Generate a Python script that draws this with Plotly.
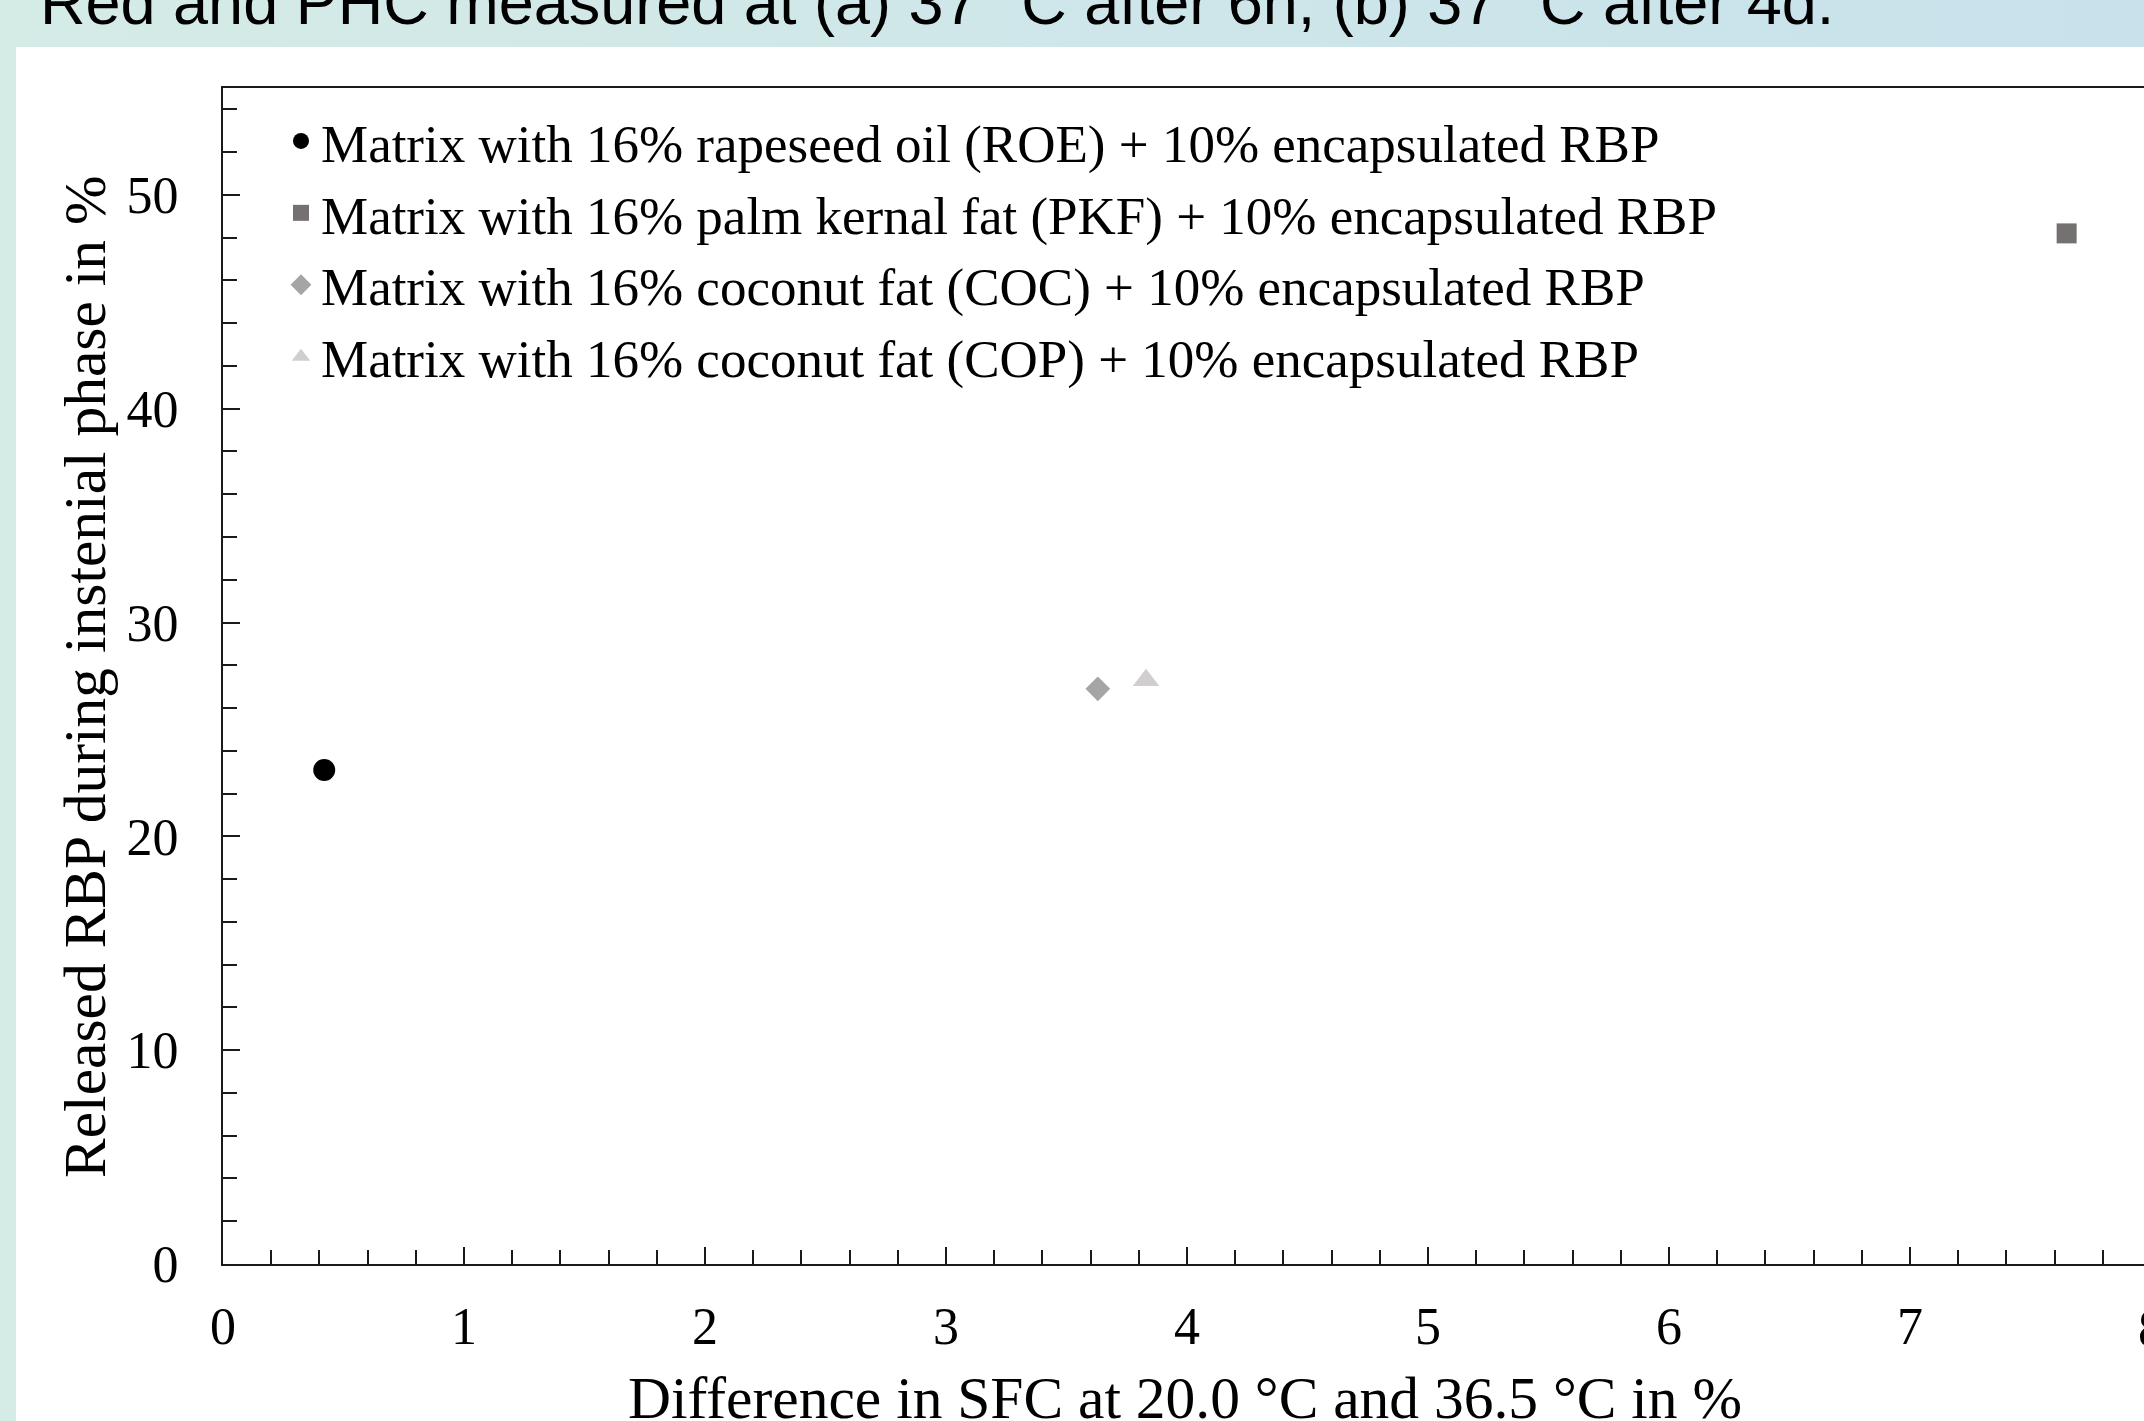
import base64
import plotly.graph_objects as go

# ---------------- data ----------------
series_names = [
    "Matrix with 16% rapeseed oil (ROE) + 10% encapsulated RBP",
    "Matrix with 16% palm kernal fat (PKF) + 10% encapsulated RBP",
    "Matrix with 16% coconut fat (COC) + 10% encapsulated RBP",
    "Matrix with 16% coconut fat (COP) + 10% encapsulated RBP",
]
sfc_difference = [0.42, 7.65, 3.63, 3.83]
released_rbp = [23.1, 48.2, 26.9, 27.3]
marker_symbols = ["circle", "square", "diamond", "triangle-up"]
marker_colors = ["#000000", "#767171", "#A5A5A5", "#D0CECE"]
marker_sizes = [22, 20, 19, 23]

x_tick_values = [0, 1, 2, 3, 4, 5, 6, 7]
y_tick_values = [0, 10, 20, 30, 40, 50]
x_cut_label = "8"

x_title = "Difference in SFC at 20.0 °C and 36.5 °C in %"
y_title = "Released RBP during instenial phase in %"
slide_title = "Red and PHC measured at (a) 37 °C after 6h, (b) 37 °C after 4d."

# ---------------- layout geometry (pixels) ----------------
W, H = 2144, 1421
PL, PR, PT, PB = 223, 2144, 88, 1264  # plot area edges
PX_PER_X = 241.0
X_MAX = (PR - PL) / PX_PER_X
Y_MAX = 55


def px2x(px):
    return (px - PL) / (PR - PL)


def px2y(py):
    return (PB - py) / (PB - PT)


serif = "Liberation Serif, Times New Roman, serif"

fig = go.Figure()
for name, xv, yv, sym, col, sz in zip(series_names, sfc_difference, released_rbp,
                                      marker_symbols, marker_colors, marker_sizes):
    fig.add_trace(go.Scatter(
        x=[xv], y=[yv], mode="markers", name=name,
        marker=dict(symbol=sym, color=col, size=sz, line=dict(width=0)),
        cliponaxis=False,
    ))

# background gradient (slide) as svg image
svg = (
    f'<svg xmlns="http://www.w3.org/2000/svg" width="{W}" height="{H}">'
    '<defs><linearGradient id="g" x1="0" x2="1" y1="0" y2="0">'
    '<stop offset="0" stop-color="#d5ebe6"/><stop offset="1" stop-color="#c8e2ec"/>'
    '</linearGradient></defs>'
    f'<rect width="{W}" height="{H}" fill="url(#g)"/></svg>'
)
svg_uri = "data:image/svg+xml;base64," + base64.b64encode(svg.encode()).decode()

axis_common = dict(
    showline=True, linecolor="#1a1a1a", linewidth=2,
    ticks="inside", ticklen=17, tickwidth=2, tickcolor="#1a1a1a",
    showgrid=False, zeroline=False,
    tickfont=dict(family=serif, size=52, color="black"),
)

title_font = dict(family=serif, size=59.5, color="black")

fig.update_layout(
    width=W, height=H,
    margin=dict(l=PL, r=W - PR, t=PT, b=H - PB, autoexpand=False),
    paper_bgcolor="#d5ebe6",
    plot_bgcolor="white",
    font=dict(family=serif, color="black"),
    showlegend=True,
    legend=dict(
        x=px2x(281), y=px2y(100), xanchor="left", yanchor="top",
        bgcolor="rgba(0,0,0,0)", borderwidth=0,
        font=dict(family=serif, size=53, color="black"),
        itemwidth=30,
    ),
    xaxis=dict(
        range=[0, X_MAX], tickvals=x_tick_values, mirror=True,
        minor=dict(dtick=0.2, ticks="inside", ticklen=14, tickwidth=2, tickcolor="#1a1a1a"),
        ticklabelstandoff=16,
        **axis_common,
    ),
    yaxis=dict(
        range=[0, Y_MAX], tickvals=y_tick_values, mirror=False,
        minor=dict(dtick=2, ticks="inside", ticklen=14, tickwidth=2, tickcolor="#1a1a1a"),
        ticklabelstandoff=32,
        **axis_common,
    ),
    images=[dict(
        source=svg_uri, xref="paper", yref="paper",
        x=px2x(0), y=px2y(0), sizex=px2x(W) - px2x(0), sizey=px2y(0) - px2y(H),
        xanchor="left", yanchor="top", sizing="stretch", layer="below",
    )],
    shapes=[dict(
        type="rect", xref="paper", yref="paper", layer="below",
        x0=px2x(16), x1=px2x(W + 5), y0=px2y(47), y1=px2y(H + 5),
        fillcolor="white", line=dict(width=0),
    )],
    annotations=[
        dict(text=slide_title, xref="paper", yref="paper", x=px2x(38), y=px2y(39),
             xanchor="left", yanchor="bottom", showarrow=False,
             font=dict(family="Liberation Sans, Arial, sans-serif", size=63, color="black")),
        # tick label "8" lies just beyond the visible right edge (cut off in the original)
        dict(text=x_cut_label, xref="paper", yref="paper",
             x=px2x(PL + float(x_cut_label) * PX_PER_X), y=px2y(1328),
             xanchor="center", yanchor="middle", showarrow=False,
             font=dict(family=serif, size=52, color="black")),
        # axis titles
        dict(text=x_title, xref="paper", yref="paper", x=px2x(1185), y=px2y(1398),
             xanchor="center", yanchor="middle", showarrow=False, font=title_font),
        dict(text=y_title, xref="paper", yref="paper", x=px2x(85), y=px2y(677),
             xanchor="center", yanchor="middle", showarrow=False, textangle=-90,
             font=title_font),
    ],
)

fig.write_html(
    "out.html",
    config={"displayModeBar": False},
    post_script="document.body.style.margin='0';document.body.style.overflow='hidden';",
)
